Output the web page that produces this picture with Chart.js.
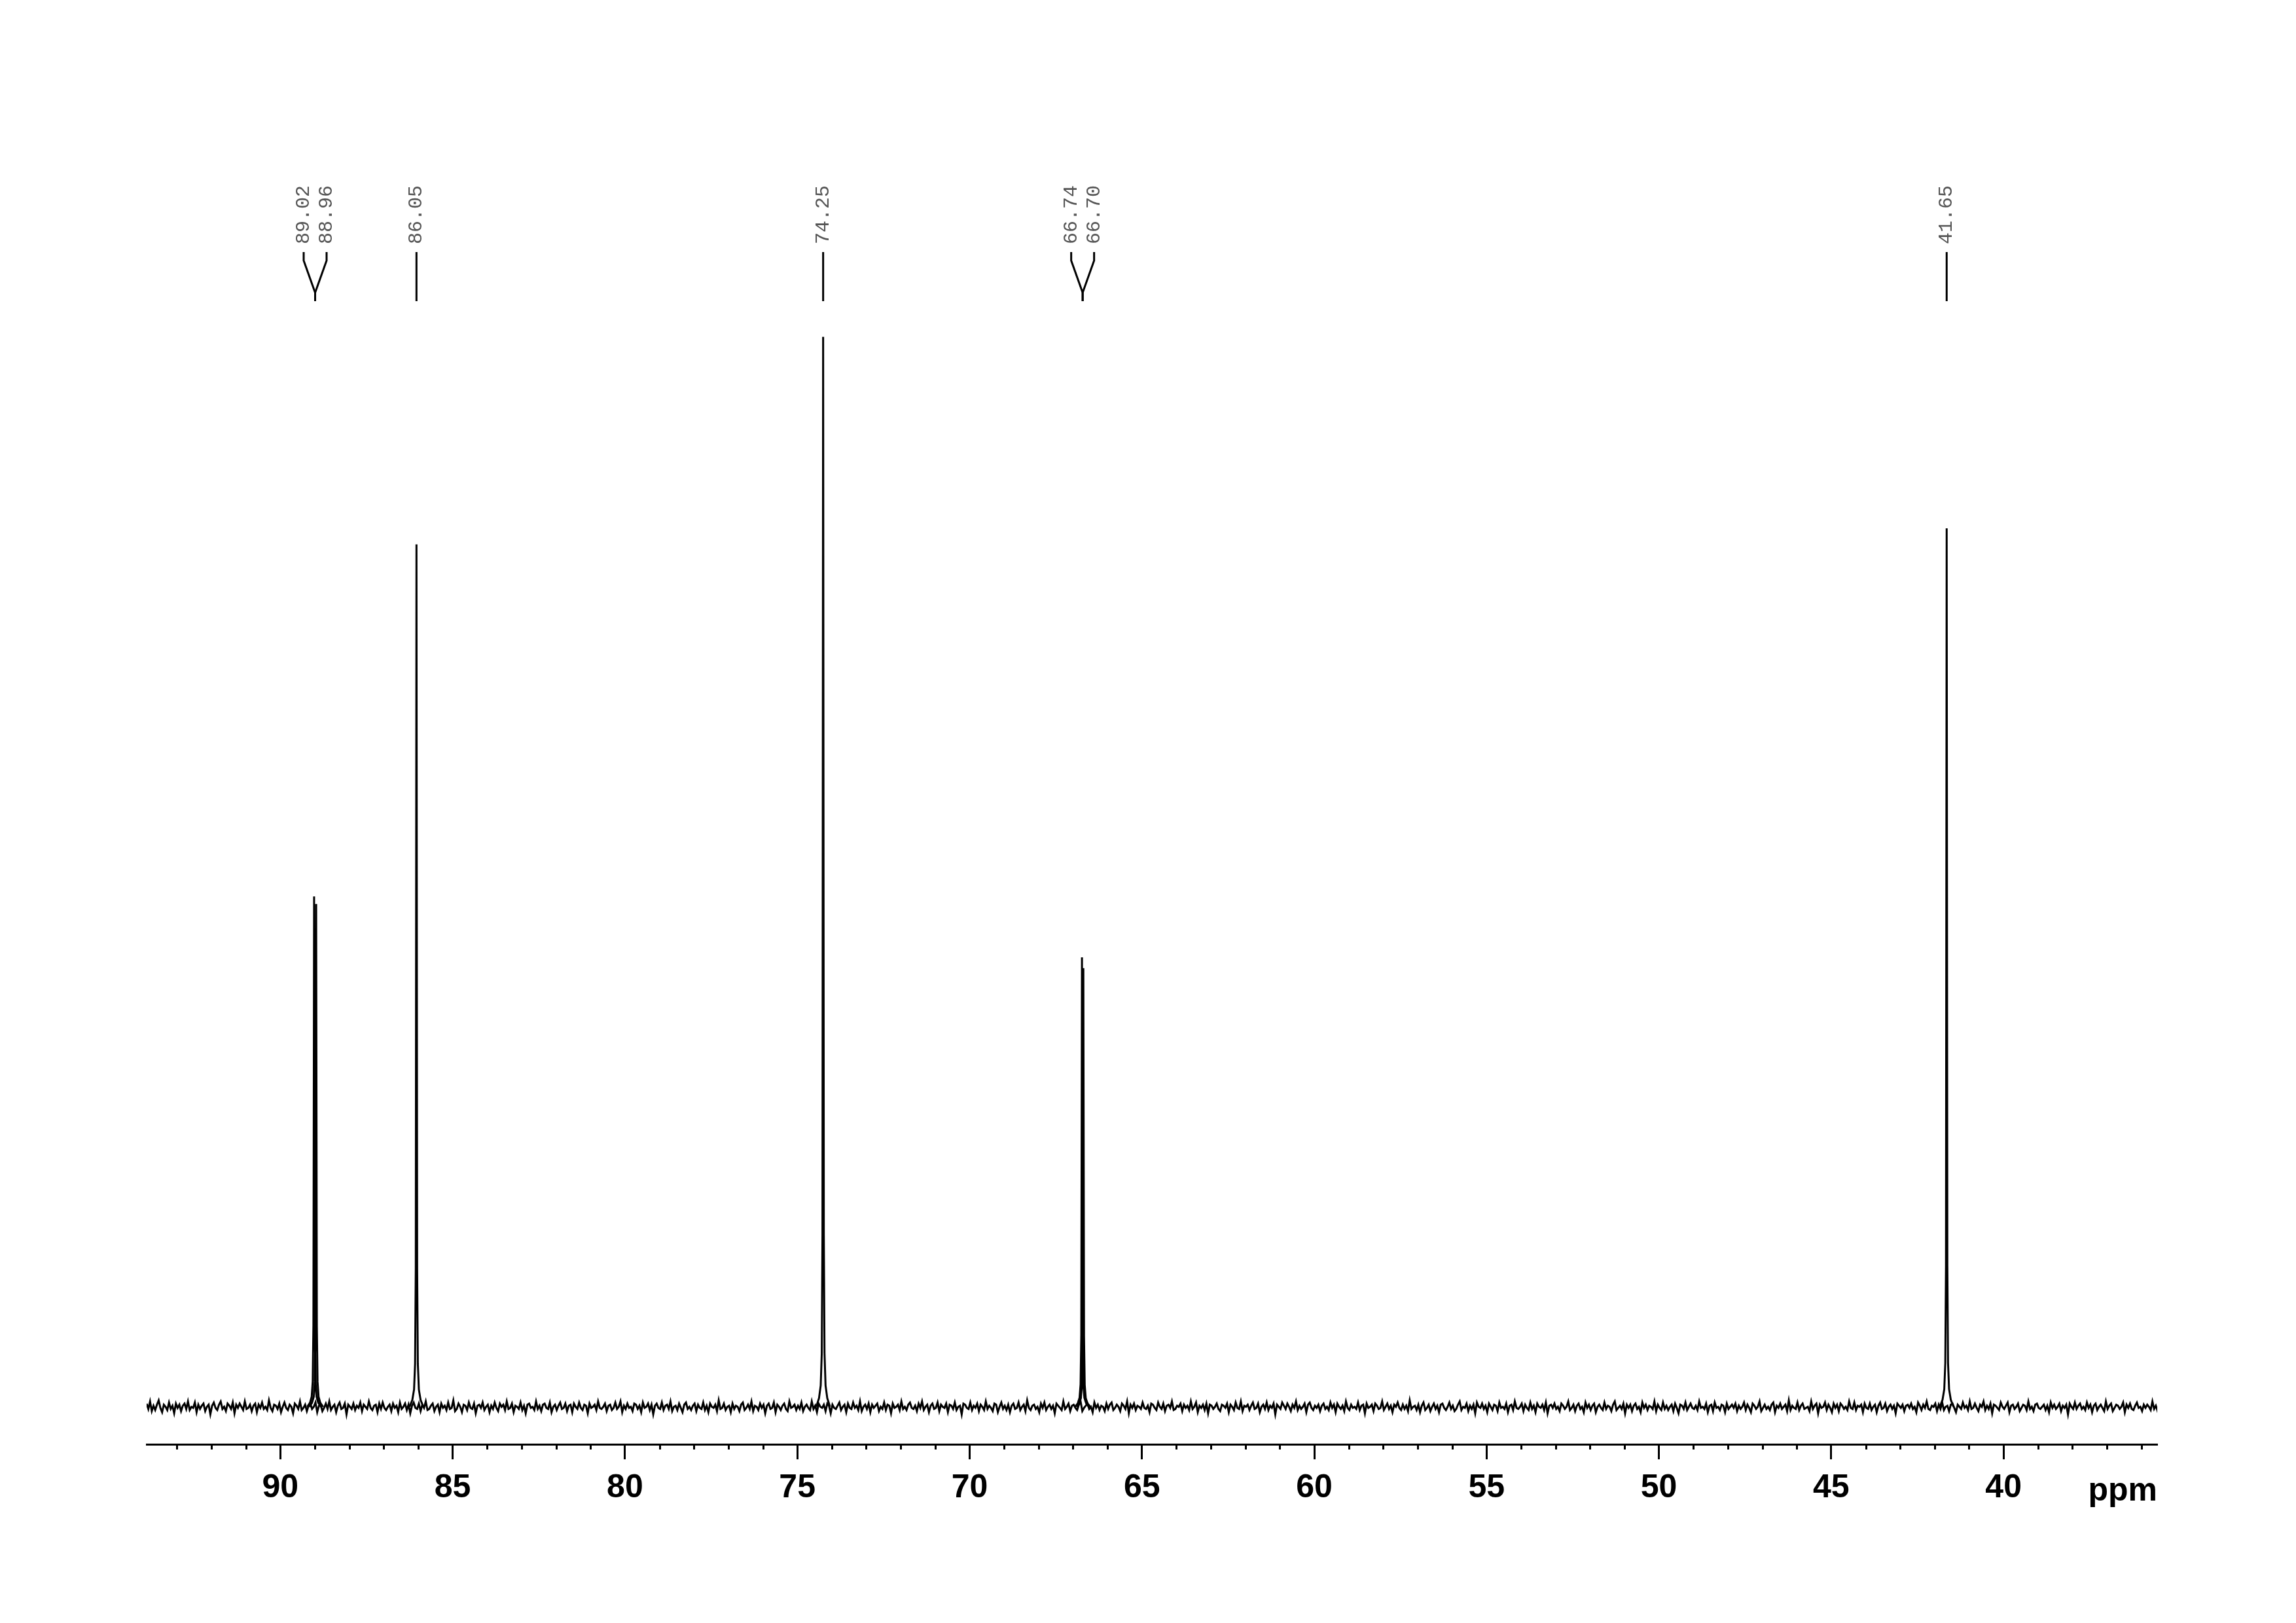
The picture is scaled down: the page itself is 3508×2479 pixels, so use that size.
<!DOCTYPE html>
<html>
<head>
<meta charset="utf-8">
<script src="https://cdn.jsdelivr.net/npm/chart.js@4/dist/chart.umd.min.js"></script>
<style>
  html, body { margin: 0; padding: 0; background: #fff; }
  canvas { display: block; }
</style>
</head>
<body>
<canvas id="spectrum" width="3508" height="2479"></canvas>
<script>
// peak positions (ppm) and heights (tallest = 1000)
const peakPpm = [89.02, 88.96, 86.05, 74.25, 66.74, 66.70, 41.65];
const peakHeight = [477, 470, 806, 1000, 420, 410, 821];
const peakLabels = ["89.02", "88.96", "86.05", "74.25", "66.74", "66.70", "41.65"];
// labels that share one bracket
const labelGroups = [[0, 1], [2], [3], [4, 5], [6]];

// line shape: ppm offset -> fraction of peak height
const shapeOffset = [0.2, 0.12, 0.07, 0.04, 0.02, 0, -0.02, -0.04, -0.07, -0.12, -0.2];
const shapeFraction = [0, 0.008, 0.02, 0.05, 0.16, 1, 0.16, 0.05, 0.02, 0.008, 0];

const majorTicks = [90, 85, 80, 75, 70, 65, 60, 55, 50, 45, 40];
const ppmMin = 35.54, ppmMax = 93.88;

// baseline noise, sampled every 0.05 ppm from the left edge
const noiseStart = 93.88, noiseStep = 0.05;
const noise = [
  3,-2,5,-4,1,-3,2,6,-1,-5,2,0,-3,4,-2,1,-6,3,-1,2,
  -4,1,3,-2,5,-3,0,-1,4,-5,2,-2,1,3,-4,0,2,-7,1,4,
  -1,-3,2,5,-2,0,-4,3,1,-2,4,-6,2,-1,3,0,-3,5,-2,-1,
  2,-4,1,3,-5,2,-1,4,-2,0,-3,6,-1,-4,2,1,-2,3,-5,0,
  4,-1,-3,2,0,-6,3,1,-2,5,-3,-1,2,-4,1,3,-2,0,4,-5,
  1,2,-4,-1,3,-2,5,-3,0,2,-5,1,4,-2,-1,3,-7,2,0,-2,
  3,-3,1,-1,4,-4,2,0,-2,5,-1,-3,1,2,-5,3,-2,4,-1,-3,
  0,2,-4,3,-1,1,-5,4,-2,0,3,-3,2,-6,1,4,-1,-2,3,-4,
  2,-1,5,-3,-2,1,3,-4,0,2,-5,3,-1,1,-3,4,-2,-1,6,-4,
  -2,3,0,-5,2,1,-3,4,-1,-2,3,-6,1,2,-1,4,-3,0,2,-5,
  1,-2,4,-1,-4,3,0,2,-3,5,-2,-1,3,-5,1,0,-2,4,-3,1,
  -6,2,3,-1,0,-3,5,-2,1,-4,2,3,-1,-2,4,-5,0,2,-3,1,
  4,-2,-1,3,-4,1,2,-5,3,0,-2,4,-1,-3,2,1,-6,3,-1,0,
  2,-3,5,-1,-2,0,3,-4,1,2,-3,-1,4,-2,0,5,-5,1,-2,3,
  -1,0,-4,3,2,-2,1,-5,4,-1,0,3,-3,2,-7,1,3,-1,-2,4,
  -3,1,2,-2,5,-4,0,1,-3,3,-1,-5,2,4,-2,0,-3,1,3,-4,
  2,-1,-2,4,-3,1,-5,3,0,-1,2,-4,6,-2,-1,3,-3,0,1,-5,
  3,-2,1,0,-4,2,4,-3,-1,2,-2,5,-4,1,0,-3,3,-1,2,-6,
  1,3,-2,-1,4,-5,2,0,-3,1,3,-2,-4,5,-1,0,2,-3,1,-2,
  4,-4,0,2,-1,-3,5,-2,1,-5,3,0,-1,2,-4,3,1,-6,2,-1,
  -2,1,4,-3,0,2,-5,3,-1,-2,4,-1,1,-3,5,-4,0,2,-2,3,
  -5,2,-1,1,3,-4,0,-2,4,-3,2,1,-6,3,-1,0,2,-3,5,-2,
  0,-3,2,4,-1,-2,1,-4,3,-1,5,-3,0,2,-5,1,3,-2,-1,4,
  -4,2,0,-1,3,-5,2,1,-2,4,-3,0,1,-7,3,2,-1,-2,4,-3,
  1,-1,3,-4,2,0,-3,5,-2,1,-1,-4,3,2,-5,0,4,-2,1,-3,
  2,-5,1,3,-2,-1,4,-3,0,2,-4,6,-1,-3,1,2,-2,0,-5,3,
  -1,4,-3,0,2,-2,1,-6,3,1,-1,-3,5,-2,0,3,-4,1,2,-1,
  -3,2,5,-4,-1,1,3,-2,0,-5,4,-1,2,-3,1,0,-4,3,-2,2,
  4,-3,-1,2,0,-4,3,1,-2,5,-6,2,-1,3,-3,1,0,-2,4,-1,
  -2,1,-5,3,2,-1,-3,4,0,-2,3,-4,1,2,-1,5,-3,-2,1,0,
  3,-4,2,-1,1,-3,5,-2,0,4,-5,1,-1,2,-3,3,-6,2,1,-2,
  0,3,-2,-4,2,1,-1,3,-5,2,0,-3,4,-1,-2,5,-4,1,0,2,
  -3,1,4,-2,-1,3,-5,0,2,-2,4,-3,1,-1,3,-7,2,0,-2,4,
  1,-2,3,0,-4,2,-1,5,-3,1,-2,0,3,-5,2,4,-1,-3,1,-1,
  2,-4,1,3,-2,0,-3,4,-1,2,-5,3,0,-2,1,-4,5,-1,-3,2,
  -1,0,-2,4,-3,1,2,-6,3,-1,0,2,-4,3,1,-2,-1,5,-3,0,
  3,-2,1,-5,2,0,4,-1,-3,2,-2,1,-4,6,-2,0,1,-3,2,-5,
  1,4,-3,-1,2,-4,0,3,-2,1,-5,2,3,-1,-3,0,4,-2,1,-4,
  -2,2,5,-3,0,-1,3,-4,1,-2,2,-6,4,0,-1,3,-2,1,-5,3,
  0,-3,2,1,-4,4,-1,0,-2,3,-5,1,2,-3,5,-1,-2,0,3,-4,
  2,-1,-3,4,-2,1,-5,3,0,-1,2,-3,4,-6,1,2,-1,3,-2,0,
  -4,3,1,-2,0,5,-3,-1,2,-4,1,3,-2,0,-5,4,-1,2,-3,1,
  3,-5,0,2,-1,-3,4,-2,1,0,-4,2,5,-3,-1,1,-2,3,-6,2,
  -1,2,-4,1,3,-2,0,-5,4,-1,2,-3,1,0,-2,5,-4,2,-1,-3,
  4,-2,1,-3,0,2,-4,3,-1,-6,2,1,-2,4,-3,0,3,-1,-2,1,
  -3,5,-1,0,-2,3,-5,1,2,-4,4,-1,0,-3,2,1,-5,3,-2,0,
  2,-1,3,-4,1,-2,0,4,-3,2,-1,-5,3,1,-2,0,5,-4,-1,2,
  -2,0,-3,2,4,-5,1,-1,3,-2,0,2,-4,6,-3,1,-1,-2,4,-3,
  1,3,-2,-1,0,-4,5,-2,1,3,-6,2,-1,0,4,-3,2,-1,-5,3,
  -1,2,-4,3,1,-2,0,-3,5,-1,-2,4,-3,1,0,2,-5,3,-1,-2,
  3,-3,0,2,-5,1,4,-2,-1,3,-4,0,2,-2,1,-6,3,1,-1,2,
  -4,1,2,-1,3,-2,0,-5,4,1,-3,2,-1,5,-2,-3,1,0,3,-4,
  2,-2,4,-3,0,1,-4,2,3,-1,-5,2,0,-2,4,-1,1,-3,5,-2,
  -1,3,-1,-4,2,0,5,-3,1,-2,3,-6,2,1,-1,-3,4,0,-2,1,
  4,-5,1,2,-2,0,3,-4,-1,2,1,-3,5,-2,0,-4,2,3,-1,-2,
  0,2,-3,1,-5,4,-1,2,-2,0,3,-4,1,-1,2,-7,3,0,-2,4,
  -2,1,3,-2,0,-3,4,-1,2,-5,1,3,-3,0,2,-1,-4,5,-2,1,
  3,-4,-1,2,1,-2,0,4,-5,2,-1,3,-2,-3,1,4,-1,0,-4,2,
  -1,2,0,-3,5,-2,1,-4,3,0,-2,2,-5,1,4,-3,-1,2,0,-2
];

let noisePoints = noise.map((v, i) => ({ x: noiseStart - i * noiseStep, y: v }));

let peakPoints = [];
peakPpm.forEach((ppm, i) => {
  shapeOffset.forEach((off, j) => {
    peakPoints.push({ x: ppm + off, y: peakHeight[i] * shapeFraction[j] });
  });
  peakPoints.push({ x: ppm, y: null });
});

// minor ticks, "ppm" unit and the peak pick labels on top
const decorations = {
  id: "decorations",
  afterDraw(chart) {
    let ctx = chart.ctx;
    let xs = chart.scales.x;
    let axisY = chart.chartArea.bottom;
    ctx.save();
    ctx.strokeStyle = "#000";
    ctx.lineWidth = 3;
    for (let v = Math.ceil(ppmMin); v <= Math.floor(ppmMax); v++) {
      if (v % 5 === 0) continue;
      let px = Math.round(xs.getPixelForValue(v)) + 0.5;
      ctx.beginPath();
      ctx.moveTo(px, axisY);
      ctx.lineTo(px, axisY + 8);
      ctx.stroke();
    }

    ctx.fillStyle = "#000";
    ctx.font = "bold 50px 'Liberation Sans', Arial, sans-serif";
    ctx.textAlign = "right";
    ctx.textBaseline = "alphabetic";
    ctx.fillText("ppm", chart.chartArea.right, 2292);

    ctx.lineWidth = 3;
    ctx.font = "30px 'Liberation Mono', monospace";
    ctx.fillStyle = "#555";
    labelGroups.forEach(group => {
      let pxs = group.map(i => xs.getPixelForValue(peakPpm[i]));
      let center = pxs.reduce((a, b) => a + b, 0) / pxs.length;
      group.forEach((i, k) => {
        let lx = center + (k - (group.length - 1) / 2) * 35;
        ctx.beginPath();
        ctx.moveTo(lx, 385);
        ctx.lineTo(lx, 398);
        ctx.lineTo(center, 447);
        ctx.lineTo(center, 460);
        ctx.stroke();
        ctx.save();
        ctx.translate(lx, 373);
        ctx.rotate(-Math.PI / 2);
        ctx.textAlign = "left";
        ctx.textBaseline = "middle";
        ctx.fillText(peakLabels[i], 0, 0);
        ctx.restore();
      });
    });
    ctx.restore();
  }
};

new Chart(document.getElementById("spectrum"), {
  type: "line",
  data: {
    datasets: [
      { data: noisePoints, borderColor: "#000", borderWidth: 3, pointRadius: 0, tension: 0 },
      { data: peakPoints, borderColor: "#000", borderWidth: 3, pointRadius: 0, tension: 0, spanGaps: false }
    ]
  },
  options: {
    responsive: false,
    animation: false,
    devicePixelRatio: 1,
    layout: { padding: { top: 400, left: 224, right: 212, bottom: 162 } },
    plugins: { legend: { display: false }, tooltip: { enabled: false } },
    scales: {
      x: {
        type: "linear",
        reverse: true,
        min: ppmMin,
        max: ppmMax,
        afterBuildTicks: axis => { axis.ticks = majorTicks.map(v => ({ value: v })); },
        border: { display: true, color: "#000", width: 3 },
        grid: { drawOnChartArea: false, drawTicks: true, tickLength: 23, tickWidth: 3, tickColor: "#000" },
        ticks: {
          color: "#000",
          padding: 14,
          maxRotation: 0,
          autoSkip: false,
          font: { family: "'Liberation Sans', Arial, sans-serif", size: 50, weight: "bold" }
        }
      },
      y: { display: false, min: -35, max: 1070 }
    }
  },
  plugins: [decorations]
});
</script>
</body>
</html>
